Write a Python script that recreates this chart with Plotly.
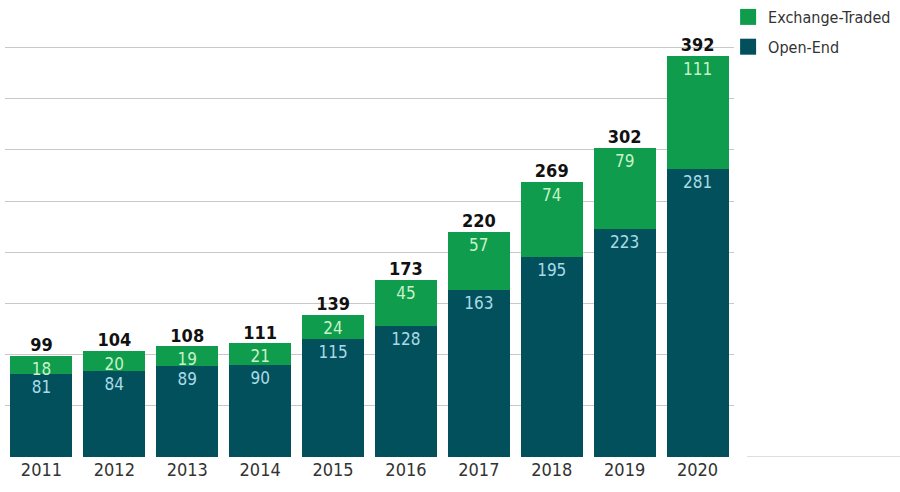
import plotly.graph_objects as go

# Data
years = ['2011', '2012', '2013', '2014', '2015', '2016', '2017', '2018', '2019', '2020']
open_end = [81, 84, 89, 90, 115, 128, 163, 195, 223, 281]
exchange_traded = [18, 20, 19, 21, 24, 45, 57, 74, 79, 111]
totals = [99, 104, 108, 111, 139, 173, 220, 269, 302, 392]
grid_vals = [50, 100, 150, 200, 250, 300, 350, 400]

TEAL = '#02505c'
GREEN = '#0f9c4d'
FONT = 'DejaVu Sans Condensed, Liberation Sans Narrow, Roboto, sans-serif'

fig = go.Figure()

fig.add_trace(go.Bar(x=years, y=open_end, name='Open-End', marker_color=TEAL,
                     marker_line_width=0, showlegend=False,
                     text=open_end, textposition='inside', insidetextanchor='end', textangle=0,
                     textfont=dict(family=FONT, size=17, color='#a9dbe6')))
fig.add_trace(go.Bar(x=years, y=exchange_traded, name='Exchange-Traded', marker_color=GREEN,
                     marker_line_width=0, showlegend=False,
                     text=exchange_traded, textposition='inside', insidetextanchor='end', textangle=0,
                     textfont=dict(family=FONT, size=17, color='#c8f2c8')))

# totals above the bars
fig.add_trace(go.Scatter(x=years, y=totals, mode='text', text=['<b>%d</b>' % t for t in totals],
                         textposition='top center', showlegend=False, hoverinfo='skip',
                         textfont=dict(family=FONT, size=18, color='#111111')))

# legend proxies (square markers)
fig.add_trace(go.Scatter(x=[None], y=[None], mode='markers', name='Exchange-Traded',
                         marker=dict(symbol='square', size=17, color=GREEN), legendgroup='a'))
fig.add_trace(go.Scatter(x=[None], y=[None], mode='markers', name='Open-End',
                         marker=dict(symbol='square', size=17, color=TEAL), legendgroup='b'))

# short baseline stub to the right of the plot, as in the reference
fig.add_shape(type='line', xref='paper', yref='y', x0=1.018, x1=1.23, y0=0, y1=0,
              line=dict(color='#bdbdbd', width=1))

fig.update_layout(
    width=900, height=492,
    barmode='stack', bargap=0.15,
    plot_bgcolor='white', paper_bgcolor='white',
    margin=dict(l=5, r=166, t=20, b=35, autoexpand=False),
    font=dict(family=FONT, size=18, color='#333333'),
    uniformtext=dict(minsize=17, mode='show'),
    legend=dict(x=0.809, xref='container', y=1.0, yref='container', yanchor='top',
                xanchor='left', tracegroupgap=6, font=dict(family=FONT, size=16, color='#333333'),
                bgcolor='rgba(0,0,0,0)', itemclick=False),
    xaxis=dict(range=[-0.5, 9.5], showgrid=False, showline=False, ticks='', automargin=False,
               tickfont=dict(family=FONT, size=18, color='#333333')),
    yaxis=dict(range=[0, 427], tickvals=grid_vals, showticklabels=False, showgrid=True, automargin=False,
               gridcolor='#c8c8c8', gridwidth=1, zeroline=False, showline=False, ticks=''),
)

fig.write_html('out.html', config={'displayModeBar': False},
               post_script="document.body.style.margin='0px';")
